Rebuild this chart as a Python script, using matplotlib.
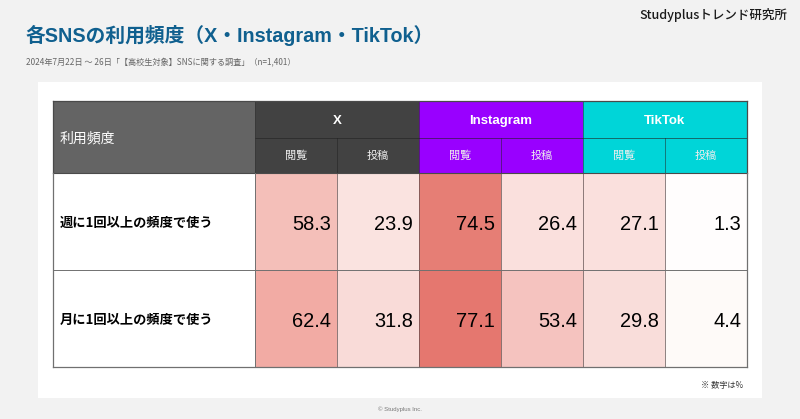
import matplotlib
matplotlib.use("Agg")
import matplotlib.pyplot as plt
from matplotlib.colors import LinearSegmentedColormap, Normalize
from matplotlib.patches import Rectangle
import numpy as np

plt.rcParams['font.family'] = ['Noto Sans CJK JP', 'DejaVu Sans']

title = "各SNSの利用頻度（X・Instagram・TikTok）"
subtitle = "2024年7月22日 〜 26日「【高校生対象】SNSに関する調査」（n=1,401）"
brand = "Studyplusトレンド研究所"
note = "※ 数字は%"
copyright_text = "© Studyplus Inc."

corner_label = "利用頻度"
platforms = ["X", "Instagram", "TikTok"]
platform_colors = ["#424242", "#9900ff", "#00d5d8"]
actions = ["閲覧", "投稿"]
rows = ["週に1回以上の頻度で使う", "月に1回以上の頻度で使う"]
week_values = [58.3, 23.9, 74.5, 26.4, 27.1, 1.3]
month_values = [62.4, 31.8, 77.1, 53.4, 29.8, 4.4]

# layout in pixels of the 800x419 picture
col_edges = [255, 337, 419, 501, 583, 665, 747]
row_edges = [173, 270, 367]
left, top, head_mid = 53, 101, 138
line_col = "#4a4a4a"

heat = LinearSegmentedColormap.from_list("heat", [
    (0.0, "#ffffff"), (0.05, "#fefaf8"), (0.32, "#fae2df"),
    (0.40, "#f9dcd9"), (0.70, "#f5c3be"), (0.76, "#f4bfb9"),
    (0.81, "#f2aba5"), (0.97, "#e67e75"), (1.0, "#e5776f"),
])
norm = Normalize(0, 77.1)


def make_chart():
    fig = plt.figure(figsize=(8, 4.19), dpi=100, facecolor="#f2f2f2")
    ax = fig.add_axes([0, 0, 1, 1])
    ax.set_xlim(0, 800)
    ax.set_ylim(419, 0)
    ax.axis("off")

    ax.add_patch(Rectangle((38, 82), 724, 316, fc="white", ec="none"))
    ax.add_patch(Rectangle((left, 173), 202, 194, fc="white", ec="none"))

    values = np.array([week_values, month_values])
    ax.pcolormesh(col_edges, row_edges, values, cmap=heat, norm=norm, linewidth=0)

    # header
    ax.add_patch(Rectangle((left, top), 202, 72, fc="#646464", ec="none"))
    ax.text(60, 138, corner_label, color="white", fontsize=10, va="center", ha="left")
    for i, name in enumerate(platforms):
        x0 = col_edges[i * 2]
        x1 = col_edges[i * 2 + 2]
        ax.add_patch(Rectangle((x0, top), x1 - x0, 173 - top,
                               fc=platform_colors[i], ec="none"))
        ax.text((x0 + x1) / 2, 120.5, name, color="white", fontsize=9.5,
                fontweight="bold", family="Liberation Sans", ha="center", va="center")
        for j, action in enumerate(actions):
            xa = col_edges[i * 2 + j]
            xb = col_edges[i * 2 + j + 1]
            ax.text((xa + xb) / 2, 156, action, color="#eeeeee", fontsize=8,
                    ha="center", va="center")

    # grid lines
    ax.plot([255, 747], [138, 138], color="#222222", lw=0.7, alpha=0.6)
    ax.plot([255, 255], [101, 173], color="#333333", lw=0.7, alpha=0.6)
    for x in col_edges[1:-1]:
        y0 = top if x in (419, 583) else 138
        ax.plot([x, x], [y0, 173], color="#222222", lw=0.6, alpha=0.6)
        ax.plot([x, x], [173, 367], color="#5a4a4a", lw=0.6, alpha=0.8)
    ax.plot([53, 747], [101, 101], color=line_col, lw=0.9)
    ax.plot([53, 747], [173, 173], color=line_col, lw=0.8)
    ax.plot([53, 53], [101, 173], color=line_col, lw=0.9)
    ax.plot([747, 747], [101, 173], color=line_col, lw=0.9)
    ax.plot([53, 747], [270, 270], color="#707070", lw=0.7)
    ax.plot([53, 747], [367, 367], color="#707070", lw=0.9)
    ax.plot([53, 53], [173, 367], color="#707070", lw=0.9)
    ax.plot([747, 747], [173, 367], color="#707070", lw=0.9)
    ax.plot([255, 255], [173, 367], color="#707070", lw=0.7)

    # body text
    for r, label in enumerate(rows):
        y = (row_edges[r] + row_edges[r + 1]) / 2
        ax.text(60, y + 1, label, color="black", fontsize=9.5, fontweight="bold",
                ha="left", va="center")
        for c in range(6):
            ax.text(col_edges[c + 1] - 6, y + 2.5, f"{values[r, c]:.1f}", color="black",
                    fontsize=14.4, family="Liberation Sans", ha="right", va="center")

    ax.text(26, 35, title, color="#10608f", fontsize=14.2, fontweight="bold",
            family=["Liberation Sans", "Noto Sans CJK JP"], ha="left", va="center")
    ax.text(26, 63, subtitle, color="#666666", fontsize=5.9, ha="left", va="center")
    ax.text(787, 15, brand, color="#1a1a1a", fontsize=9, fontweight="medium",
            ha="right", va="center")
    ax.text(743, 385, note, color="#333333", fontsize=5.9, ha="right", va="center")
    ax.text(400, 409, copyright_text, color="#777777", fontsize=4.3,
            family="Liberation Sans", ha="center", va="center")

    fig.savefig("out.png", dpi=100, facecolor=fig.get_facecolor())


if __name__ == "__main__":
    make_chart()
